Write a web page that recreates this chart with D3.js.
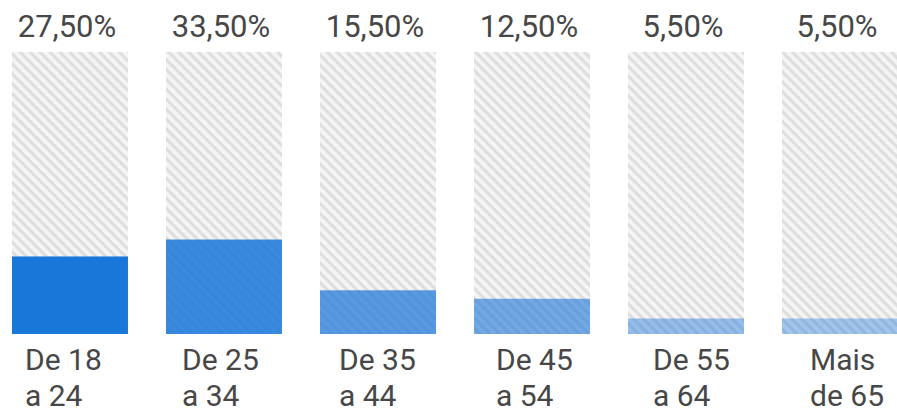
<!DOCTYPE html>
<html>
<head>
<meta charset="utf-8">
<script src="https://cdn.jsdelivr.net/npm/d3@7"></script>
<style>
  html, body { margin: 0; padding: 0; background: #fff; }
  svg { display: block; }
  text { font-family: Roboto, "Noto Sans", sans-serif; fill: #474747; }
</style>
</head>
<body>
<svg id="chart"></svg>
<script>
// faixas etarias
var categories = ["De 18|a 24", "De 25|a 34", "De 35|a 44", "De 45|a 54", "De 55|a 64", "Mais|de 65"];
var values = [27.5, 33.5, 15.5, 12.5, 5.5, 5.5];
var valueLabels = ["27,50%", "33,50%", "15,50%", "12,50%", "5,50%", "5,50%"];
var opacities = [1, 0.86, 0.72, 0.6, 0.44, 0.38];

var width = 897, height = 412;

var svg = d3.select("#chart")
    .attr("width", width)
    .attr("height", height);

var defs = svg.append("defs");
var pat = defs.append("pattern")
    .attr("id", "hatch")
    .attr("patternUnits", "userSpaceOnUse")
    .attr("width", 7)
    .attr("height", 7)
    .attr("patternTransform", "rotate(45)");
pat.append("rect")
    .attr("width", 7).attr("height", 7)
    .attr("fill", "#f5f5f5");
pat.append("rect")
    .attr("width", 7).attr("height", 3.2)
    .attr("fill", "#dedede");

var x = d3.scaleBand()
    .domain(categories)
    .range([12, 898])
    .paddingInner(0.247)
    .paddingOuter(0);

var y = d3.scaleLinear()
    .domain([0, 100])
    .range([334, 52]);

// label columns drift a little from the bars in the original
var lx = d3.scalePoint()
    .domain(categories)
    .range([25, 810]);

// track (100%)
svg.selectAll("rect.track")
    .data(categories)
  .enter().append("rect")
    .attr("class", "track")
    .attr("x", function(d){ return x(d); })
    .attr("y", y(100))
    .attr("width", x.bandwidth())
    .attr("height", y(0) - y(100))
    .attr("fill", "url(#hatch)");

// valores
svg.selectAll("rect.bar")
    .data(values)
  .enter().append("rect")
    .attr("class", "bar")
    .attr("x", function(d, i){ return x(categories[i]); })
    .attr("y", function(d){ return y(d); })
    .attr("width", x.bandwidth())
    .attr("height", function(d){ return y(0) - y(d); })
    .attr("fill", "#1a77da")
    .attr("fill-opacity", function(d, i){ return opacities[i]; });

svg.selectAll("text.pct")
    .data(valueLabels)
  .enter().append("text")
    .attr("class", "pct")
    .attr("text-anchor", "middle")
    .attr("x", function(d, i){ return x(categories[i]) + x.bandwidth() / 2 - 3; })
    .attr("y", 37)
    .style("font-size", "31px")
    .text(function(d){ return d; });

var lab = svg.selectAll("text.cat")
    .data(categories)
  .enter().append("text")
    .attr("class", "cat")
    .attr("x", function(d){ return lx(d); })
    .attr("y", 370)
    .style("font-size", "30px");

lab.append("tspan")
    .attr("x", function(d){ return lx(d); })
    .text(function(d){ return d.split("|")[0]; });
lab.append("tspan")
    .attr("x", function(d){ return lx(d); })
    .attr("dy", 36)
    .text(function(d){ return d.split("|")[1]; });
</script>
</body>
</html>
